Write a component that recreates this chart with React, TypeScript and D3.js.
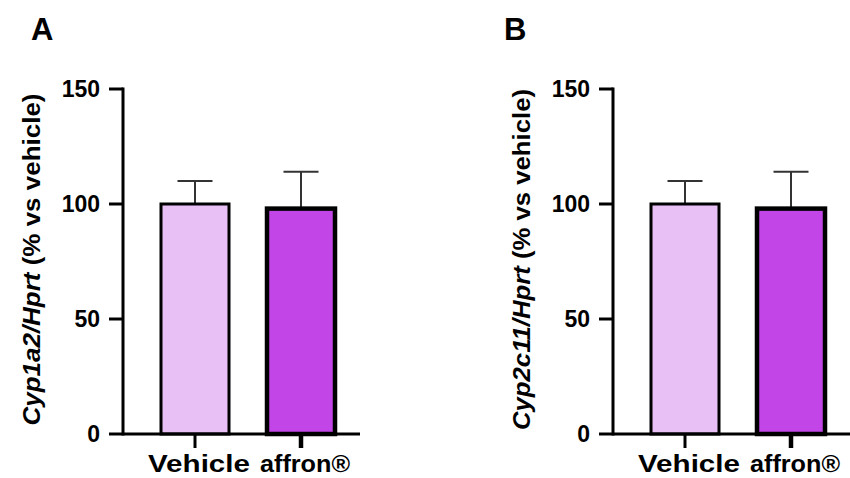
import React from "react";
import * as d3 from "d3";

const categories = ["Vehicle", "affron®"];
const cypA_means = [100, 98];
const cypA_errors = [10, 16];
const cypB_means = [100, 98];
const cypB_errors = [10, 16];
const yTicks = [0, 50, 100, 150];
const colors = ["#E9C0F5", "#C145E7"];
const panelLetters = ["A", "B"];
const yTitles = [
  { italic: "Cyp1a2/Hprt", rest: " (% vs vehicle)" },
  { italic: "Cyp2c11/Hprt", rest: " (% vs vehicle)" },
];

const FONT = "'Liberation Sans', Arial, Helvetica, sans-serif";

function Panel({ dx, letter, letterX, title, means, errors, titleLen }: any) {
  const axisX = 123;
  const xEnd = 360;
  const y = d3.scaleLinear().domain([0, 150]).range([434, 89]);
  const x = d3.scalePoint<string>().domain(categories).range([195, 301]);
  const barW = 68;
  const strokeW = [3, 4.5];
  const labelLen = [102, 90];
  return (
    <g transform={`translate(${dx},0)`}>
      <text x={letterX} y={40} fontFamily={FONT} fontWeight="bold" fontSize={31} fill="#000">
        {letter}
      </text>
      {/* y title */}
      <text
        transform={`translate(40,${(y(150) + y(0)) / 2 - 2}) rotate(-90)`}
        textAnchor="middle"
        fontFamily={FONT}
        fontWeight="bold"
        fontSize={24}
        fill="#000"
        textLength={titleLen}
        lengthAdjust="spacingAndGlyphs"
      >
        <tspan fontStyle="italic">{title.italic}</tspan>
        <tspan>{title.rest}</tspan>
      </text>
      {/* bars */}
      {categories.map((c, i) => {
        const cx = x(c)!;
        const top = y(means[i]);
        const errTop = y(means[i] + errors[i]);
        return (
          <g key={c}>
            <line x1={cx} x2={cx} y1={top} y2={errTop} stroke="#333" strokeWidth={2} />
            <line x1={cx - 17.5} x2={cx + 17.5} y1={errTop} y2={errTop} stroke="#333" strokeWidth={2} />
            <rect
              x={cx - barW / 2}
              y={top}
              width={barW}
              height={y(0) - top}
              fill={colors[i]}
              stroke="#000"
              strokeWidth={strokeW[i]}
            />
            <line x1={cx} x2={cx} y1={y(0)} y2={y(0) + 14} stroke="#000" strokeWidth={strokeW[i]} />
            <text
              x={cx + 4}
              y={472}
              textAnchor="middle"
              fontFamily={FONT}
              fontWeight="bold"
              fontSize={24}
              fill="#000"
              textLength={labelLen[i]}
              lengthAdjust="spacingAndGlyphs"
            >
              {c}
            </text>
          </g>
        );
      })}
      {/* axes */}
      <line x1={axisX} x2={axisX} y1={y(150) - 1.5} y2={y(0) + 1.5} stroke="#000" strokeWidth={3} />
      <line x1={axisX} x2={xEnd} y1={y(0)} y2={y(0)} stroke="#000" strokeWidth={3} />
      {yTicks.map((t) => (
        <g key={t}>
          <line x1={axisX - 14} x2={axisX} y1={y(t)} y2={y(t)} stroke="#000" strokeWidth={3} />
          <text
            x={axisX - 23}
            y={y(t)}
            dy="0.36em"
            textAnchor="end"
            fontFamily={FONT}
            fontWeight="bold"
            fontSize={23}
            fill="#000"
          >
            {t}
          </text>
        </g>
      ))}
    </g>
  );
}

export default function App() {
  return (
    <svg width={850} height={478} style={{ position: "absolute", left: 0, top: 0, background: "#fff" }}>
      <rect width={850} height={478} fill="#fff" />
      <Panel dx={0} letter={panelLetters[0]} letterX={31} title={yTitles[0]} means={cypA_means} errors={cypA_errors} titleLen={332} />
      <Panel dx={490} letter={panelLetters[1]} letterX={14} title={yTitles[1]} means={cypB_means} errors={cypB_errors} titleLen={341} />
    </svg>
  );
}
